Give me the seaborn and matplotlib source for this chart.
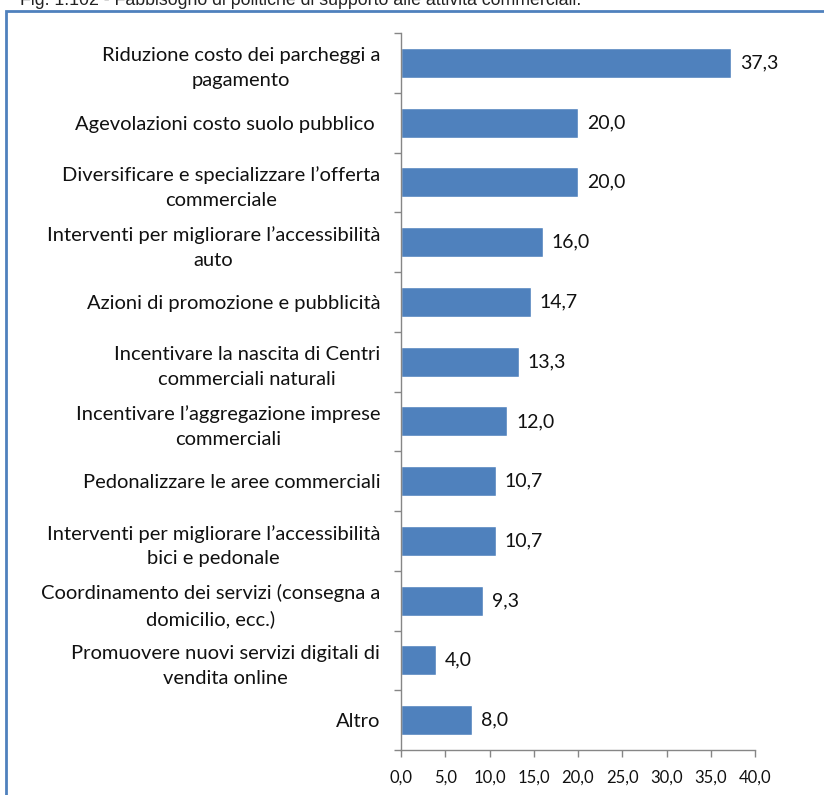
import matplotlib
matplotlib.use("Agg")
import matplotlib.pyplot as plt
from matplotlib.patches import Rectangle
import seaborn as sns
import pandas as pd

categories = [
    "Riduzione costo dei parcheggi a\npagamento",
    "Agevolazioni costo suolo pubblico ",
    "Diversificare e specializzare l\u2019offerta\ncommerciale",
    "Interventi per migliorare l\u2019accessibilit\u00e0\nauto",
    "Azioni di promozione e pubblicit\u00e0",
    "Incentivare la nascita di Centri\ncommerciali naturali",
    "Incentivare l\u2019aggregazione imprese\ncommerciali",
    "Pedonalizzare le aree commerciali",
    "Interventi per migliorare l\u2019accessibilit\u00e0\nbici e pedonale",
    "Coordinamento dei servizi (consegna a\ndomicilio, ecc.)",
    "Promuovere nuovi servizi digitali di\nvendita online",
    "Altro",
]
values = [37.3, 20.0, 20.0, 16.0, 14.7, 13.3, 12.0, 10.7, 10.7, 9.3, 4.0, 8.0]
x_ticks = [0, 5, 10, 15, 20, 25, 30, 35, 40]
caption = "Fig. 1.102 - Fabbisogno di politiche di supporto alle attivit\u00e0 commerciali."

sns.set_theme(style="white")
plt.rcParams["font.family"] = ["Lato", "DejaVu Sans"]

df = pd.DataFrame({"categoria": categories, "valore": values})

fig = plt.figure(figsize=(8.24, 7.95), dpi=100)
ax = fig.add_axes([401 / 824, 1 - 750 / 795, 354 / 824, 717 / 795])

sns.barplot(data=df, x="valore", y="categoria", orient="h", color="#4F81BD",
            saturation=1, width=0.5, ax=ax)

axis_grey = "#868686"
ax.set_xlim(0, 40)
ax.set_ylim(len(categories) - 0.5, -0.5)
ax.set_xlabel("")
ax.set_ylabel("")
for side in ("top", "right"):
    ax.spines[side].set_visible(False)
for side in ("left", "bottom"):
    ax.spines[side].set_color(axis_grey)
    ax.spines[side].set_linewidth(1.0)

ax.set_xticks(x_ticks)
ax.set_xticklabels([f"{t:.1f}".replace(".", ",") for t in x_ticks], fontsize=12)
ax.tick_params(axis="x", direction="out", length=5, width=1, color=axis_grey,
               pad=9, bottom=True, labelcolor="#111111")

ax.set_yticks(range(len(categories)))
ax.set_yticklabels(categories, fontsize=14.5, multialignment="center",
                   linespacing=1.55, color="#111111")
ax.tick_params(axis="y", which="major", length=0, pad=15)
ax.set_yticks([i - 0.5 for i in range(len(categories) + 1)], minor=True)
ax.tick_params(axis="y", which="minor", direction="out", length=5, width=1,
               color=axis_grey, left=True)

for i, v in enumerate(values):
    ax.text(v + 1.0, i, f"{v:.1f}".replace(".", ","), va="center", ha="left",
            fontsize=14, color="#111111")

# outer frame of the figure panel
frame = Rectangle((6 / 824, -0.05), 1.0, 1 - 11 / 795 + 0.05,
                  transform=fig.transFigure, fill=False,
                  edgecolor="#4F81BD", linewidth=2.0, clip_on=False)
fig.patches.append(frame)

fig.text(20 / 824, 1 - 5 / 795, caption, ha="left", va="baseline",
         fontsize=12.8, family=["Liberation Sans", "DejaVu Sans"], color="#222222")

fig.savefig("out.png", dpi=100)
